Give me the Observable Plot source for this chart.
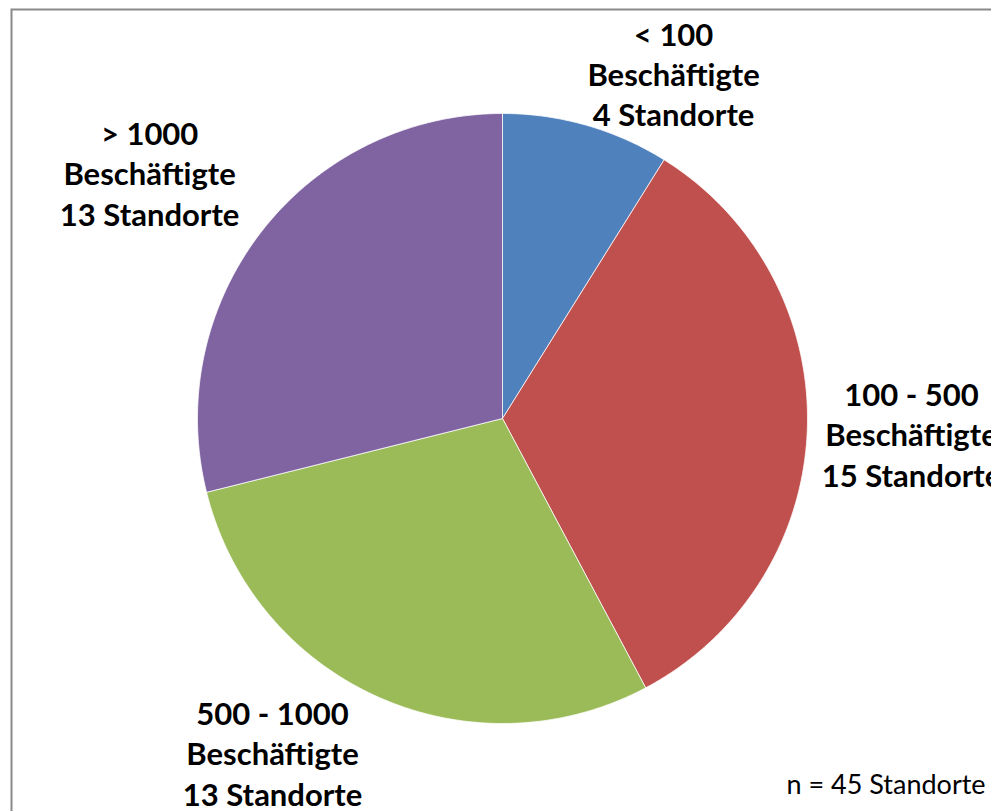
<!DOCTYPE html>
<html>
<head>
<meta charset="utf-8">
<script src="https://cdn.jsdelivr.net/npm/d3@7"></script>
<script src="https://cdn.jsdelivr.net/npm/@observablehq/plot@0.6"></script>
<style>
  html, body { margin: 0; padding: 0; background: #fff; overflow: hidden; }
  #chart svg { overflow: hidden; }
</style>
</head>
<body>
<div id="chart"></div>
<script>
// Data
const categories = ["< 100", "100 - 500", "500 - 1000", "> 1000"];
const counts = [4, 15, 13, 13];
const colors = ["#4F81BD", "#C0504D", "#9BBB59", "#8064A2"];
const labelTexts = [
  "< 100\nBeschäftigte\n4 Standorte",
  "100 - 500\nBeschäftigte\n15 Standorte",
  "500 - 1000\nBeschäftigte\n13 Standorte",
  "> 1000\nBeschäftigte\n13 Standorte"
];
const note = "n = 45 Standorte";

// Layout (label anchor positions in pie-radius units)
const labelX = [0.561, 1.341, -0.754, -1.157];
const labelY = [1.132, -0.049, -1.095, 0.807];

// Build slice polygons from the data
const total = d3.sum(counts);
const slices = [];
let acc = 0;
categories.forEach((c, i) => {
  const a0 = acc / total * 2 * Math.PI;
  acc += counts[i];
  const a1 = acc / total * 2 * Math.PI;
  const n = Math.max(2, Math.ceil((a1 - a0) / (Math.PI / 360)));
  slices.push({cat: c, x: 0, y: 0});
  for (let k = 0; k <= n; k++) {
    const a = a0 + (a1 - a0) * k / n;
    slices.push({cat: c, x: Math.sin(a), y: Math.cos(a)});
  }
  slices.push({cat: c, x: 0, y: 0});
});

const labels = categories.map((c, i) => ({cat: c, text: labelTexts[i], x: labelX[i], y: labelY[i]}));

const chart = Plot.plot({
  width: 991,
  height: 811,
  marginLeft: 197,
  marginRight: 184,
  marginTop: 113,
  marginBottom: 88,
  x: {domain: [-1, 1], axis: null},
  y: {domain: [-1, 1], axis: null},
  color: {domain: categories, range: colors},
  style: {background: "#fff", fontFamily: "Lato, 'Open Sans', sans-serif"},
  marks: [
    Plot.frame({stroke: "#898989", strokeWidth: 2, insetLeft: -186, insetTop: -104, insetRight: -220, insetBottom: -120}),
    Plot.line(slices, {x: "x", y: "y", z: "cat", fill: "cat", stroke: "#ffffff", strokeWidth: 0.75, curve: "linear"}),
    Plot.text(labels, {x: "x", y: "y", text: "text", fontSize: 31, fontWeight: "bold", lineHeight: 1.3, fill: "#000", textAnchor: "middle"}),
    Plot.text([note], {x: [1.584], y: [-1.203], text: d => d, fontSize: 27, fill: "#000", textAnchor: "end", fontWeight: "normal"})
  ]
});
document.getElementById("chart").appendChild(chart);
</script>
</body>
</html>
